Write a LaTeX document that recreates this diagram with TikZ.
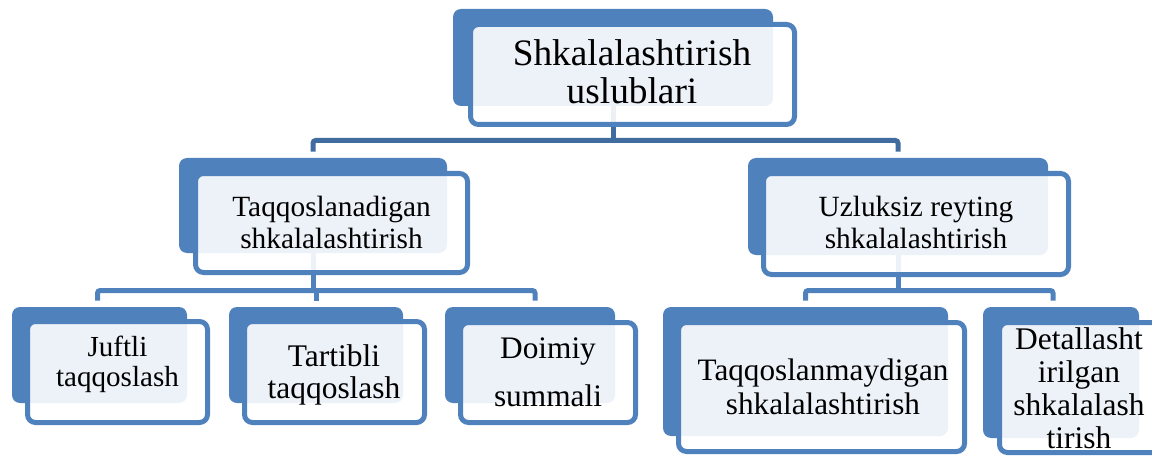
\documentclass[tikz,border=0pt]{standalone}
\usepackage{fontspec}
\setmainfont{Liberation Serif}
\usetikzlibrary{fit,backgrounds}
\definecolor{myblue}{RGB}{79,129,189}
\definecolor{topblue}{RGB}{65,108,160}

\begin{document}
\begin{tikzpicture}[
    x=0.75pt, y=-0.75pt,
    backbox/.style={rectangle, fill=myblue, rounded corners=6pt, inner sep=0pt},
    frontbox/.style={rectangle, draw=myblue, line width=3.75pt, fill=white,
                fill opacity=0.9, rounded corners=6pt, inner sep=0pt},
    txt/.style={anchor=base, inner sep=0pt, text=black},
    linkline/.style={draw=myblue, line width=3.75pt, rounded corners=2pt},
    toplink/.style={linkline, draw=topblue}
]
    \useasboundingbox (0,0) rectangle (1152,456);
    % top level
    \node[backbox, fit={(453,9) (773,106)}] (topb) {};
    \node[frontbox, fit={(470.5,24.5) (794.5,124.5)}] (top) {};
    \node[txt, font=\fontsize{28}{28}\selectfont] (toptxt) at (632,66)
        {\begin{tabular}[t]{@{}c@{}}Shkalalashtirish\\uslublari\end{tabular}};
    % second level
    \node[backbox, fit={(179,158) (447,253)}] (taqb) {};
    \node[frontbox, fit={(195.5,173.5) (467.5,272.5)}] (taq) {};
    \node[txt, font=\fontsize{22}{23.7}\selectfont] (taqtxt) at (331.5,216.7)
        {\begin{tabular}[t]{@{}c@{}}Taqqoslanadigan\\shkalalashtirish\end{tabular}};
    \node[backbox, fit={(748,158) (1048,255)}] (uzlb) {};
    \node[frontbox, fit={(763.5,173.5) (1068.5,274.5)}] (uzl) {};
    \node[txt, font=\fontsize{22}{24.2}\selectfont] (uzltxt) at (916,216.7)
        {\begin{tabular}[t]{@{}c@{}}Uzluksiz reyting\\shkalalashtirish\end{tabular}};
    % third level
    \node[backbox, fit={(12,307) (187,403)}] (juftb) {};
    \node[frontbox, fit={(27.5,321.5) (207.5,422.5)}] (juft) {};
    \node[txt, font=\fontsize{21.8}{23}\selectfont] (jufttxt) at (117.5,356)
        {\begin{tabular}[t]{@{}c@{}}Juftli\\taqqoslash\end{tabular}};
    \node[backbox, fit={(229,307) (403,403)}] (tartb) {};
    \node[frontbox, fit={(244.5,321.5) (424.5,422.5)}] (tart) {};
    \node[txt, font=\fontsize{23.6}{23.7}\selectfont] (tarttxt) at (334,366.7)
        {\begin{tabular}[t]{@{}c@{}}Tartibli\\taqqoslash\end{tabular}};
    \node[backbox, fit={(445,307) (615,403)}] (doimb) {};
    \node[frontbox, fit={(460.5,322.5) (635.5,422.5)}] (doim) {};
    \node[txt, font=\fontsize{23.5}{35.8}\selectfont] (doimtxt) at (548,358.3)
        {\begin{tabular}[t]{@{}c@{}}Doimiy\\summali\end{tabular}};
    \node[backbox, fit={(663,307) (948,436)}] (taqmb) {};
    \node[frontbox, fit={(678.5,322.5) (964.5,451.5)}] (taqm) {};
    \node[txt, font=\fontsize{23.4}{25}\selectfont] (taqmtxt) at (823,380.7)
        {\begin{tabular}[t]{@{}c@{}}Taqqoslanmaydigan\\shkalalashtirish\end{tabular}};
    \node[backbox, fit={(983,307) (1139,438)}] (detb) {};
    \node[frontbox, fit={(999.5,322.5) (1166,452.5)}] (det) {};
    \node[txt, font=\fontsize{23.6}{24.75}\selectfont] (dettxt) at (1079,349.3)
        {\begin{tabular}[t]{@{}c@{}}Detallasht\\irilgan\\shkalalash\\tirish\end{tabular}};

    % connectors behind the boxes
    \begin{pgfonlayer}{background}
        \coordinate (j0) at (613,140.5);
        \draw[toplink] (topb.south) -- (j0);
        \draw[toplink] ([yshift=4.5pt]taqb.north) |- (j0) -| ([yshift=4.5pt]uzlb.north);

        \coordinate (j1) at (313,290.5);
        \draw[linkline] (taqb.south) -- (j1);
        \draw[linkline] ([xshift=-1.5pt,yshift=4.5pt]juftb.north) |- (j1) -| ([xshift=3.75pt,yshift=4.5pt]doimb.north);
        \draw[linkline] ([yshift=4.5pt]tartb.north) -- (tartb.north |- j1);

        \coordinate (j2) at (898,290.5);
        \draw[linkline] (uzlb.south) -- (j2);
        \draw[linkline] ([yshift=4.5pt]taqmb.north) |- (j2) -| ([xshift=-6pt,yshift=4.5pt]detb.north);
    \end{pgfonlayer}
\end{tikzpicture}
\end{document}
